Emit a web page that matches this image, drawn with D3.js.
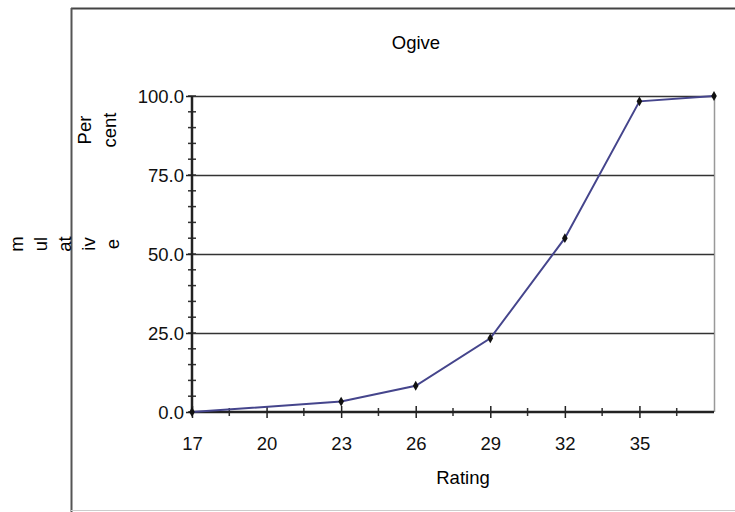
<!DOCTYPE html>
<html>
<head>
<meta charset="utf-8">
<script src="https://cdn.jsdelivr.net/npm/d3@7"></script>
<style>
  body { margin: 0; background: #fff; }
  svg { display: block; font-family: "Liberation Sans", Arial, sans-serif; }
</style>
</head>
<body>
<div id="chart"></div>
<script>
var ratings = [17, 23, 26, 29, 32, 35, 38];
var cumPercent = [0, 3.3, 8.3, 23.3, 55.0, 98.3, 100];
var xTicks = [17, 20, 23, 26, 29, 32, 35];
var xMinor = [18.5, 21.5, 24.5, 27.5, 30.5, 33.5, 36.5];
var yTicks = [0, 25, 50, 75, 100];
var yMinor = d3.range(0, 101, 5);
// the original label is chopped into pieces; the first one falls off the page
var yLabelA = ['m', 'ul', 'at', 'iv', 'e'];
var yLabelB = ['Per', 'cent'];

var W = 735, H = 512;
var margin = {top: 96, right: 21, bottom: 100, left: 192};
var FS = 18.5;

var svg = d3.select('#chart').append('svg')
    .attr('width', W)
    .attr('height', H);

// outer frame
svg.append('line').attr('x1', 71).attr('x2', W).attr('y1', 8.5).attr('y2', 8.5)
    .attr('stroke', '#444').attr('stroke-width', 2);
svg.append('line').attr('x1', 71.5).attr('x2', 71.5).attr('y1', 8).attr('y2', H)
    .attr('stroke', '#555').attr('stroke-width', 2);
svg.append('line').attr('x1', 71).attr('x2', W).attr('y1', 510.5).attr('y2', 510.5)
    .attr('stroke', '#ccc').attr('stroke-width', 1);

var w = W - margin.left - margin.right,
    h = H - margin.top - margin.bottom;

var x = d3.scaleLinear().domain([17, 38]).range([0, w]);
var y = d3.scaleLinear().domain([0, 100]).range([h, 0]);

var g = svg.append('g')
    .attr('transform', 'translate(' + margin.left + ',' + margin.top + ')');

// right border of plot
g.append('line')
    .attr('x1', w + 0.5).attr('x2', w + 0.5).attr('y1', 0).attr('y2', h)
    .attr('stroke', '#999').attr('stroke-width', 1.5);

// gridlines
g.selectAll('.grid').data(yTicks.slice(1)).enter().append('line')
    .attr('class', 'grid')
    .attr('x1', 0).attr('x2', w)
    .attr('y1', d => Math.round(y(d)) + 0.5).attr('y2', d => Math.round(y(d)) + 0.5)
    .attr('stroke', '#333').attr('stroke-width', 1.6);

// minor ticks
g.selectAll('.ymin').data(yMinor).enter().append('line')
    .attr('x1', -4).attr('x2', 4)
    .attr('y1', d => y(d)).attr('y2', d => y(d))
    .attr('stroke', '#333').attr('stroke-width', 1.5);
g.selectAll('.xmin').data(xMinor).enter().append('line')
    .attr('x1', d => x(d)).attr('x2', d => x(d))
    .attr('y1', h - 4).attr('y2', h + 4)
    .attr('stroke', '#333').attr('stroke-width', 1.5);

// axes
var axisY = g.append('g')
    .call(d3.axisLeft(y).tickValues(yTicks).tickFormat(d3.format('.1f')).tickSize(6).tickPadding(2));
var axisX = g.append('g')
    .attr('transform', 'translate(0,' + h + ')')
    .call(d3.axisBottom(x).tickValues(xTicks).tickFormat(d3.format('d')).tickSizeInner(6).tickSizeOuter(0).tickPadding(19));
axisX.selectAll('.tick line').attr('y1', -6);
axisX.select('.domain').attr('d', 'M0,0H' + w);

[axisX, axisY].forEach(function(a) {
    a.selectAll('.domain').attr('stroke', '#222').attr('stroke-width', 2.5);
    a.selectAll('.tick line').attr('stroke', '#222').attr('stroke-width', 1.5);
    a.selectAll('text').attr('font-size', FS).attr('fill', '#111')
        .style('font-family', '"Liberation Sans", Arial, sans-serif');
});
axisY.selectAll('.tick text').attr('dy', '0.36em');
axisY.select('.domain').attr('d', 'M0,' + h + 'V0');

// the ogive
var line = d3.line()
    .x(d => x(d[0]))
    .y(d => y(d[1]));

var pts = ratings.map((r, i) => [r, cumPercent[i]]);

g.append('path')
    .datum(pts)
    .attr('fill', 'none')
    .attr('stroke', '#45458c')
    .attr('stroke-width', 2)
    .attr('d', line);

g.selectAll('.pt').data(pts).enter().append('path')
    .attr('class', 'pt')
    .attr('transform', d => 'translate(' + x(d[0]) + ',' + y(d[1]) + ')')
    .attr('d', d3.symbol().type(d3.symbolDiamond).size(28))
    .attr('fill', '#111');

// titles
svg.append('text')
    .attr('x', 416).attr('y', 49)
    .attr('text-anchor', 'middle')
    .attr('font-size', FS)
    .text('Ogive');

svg.append('text')
    .attr('x', 463).attr('y', 484)
    .attr('text-anchor', 'middle')
    .attr('font-size', FS)
    .text('Rating');

// y-axis label, broken into columns as in the original
yLabelA.forEach(function(t, i) {
    svg.append('text')
        .attr('transform', 'translate(' + (23 + i * 24) + ',244) rotate(-90)')
        .attr('text-anchor', 'middle')
        .attr('font-size', FS)
        .text(t);
});
yLabelB.forEach(function(t, i) {
    svg.append('text')
        .attr('transform', 'translate(' + (91 + i * 25) + ',130) rotate(-90)')
        .attr('text-anchor', 'middle')
        .attr('font-size', FS)
        .text(t);
});
</script>
</body>
</html>
